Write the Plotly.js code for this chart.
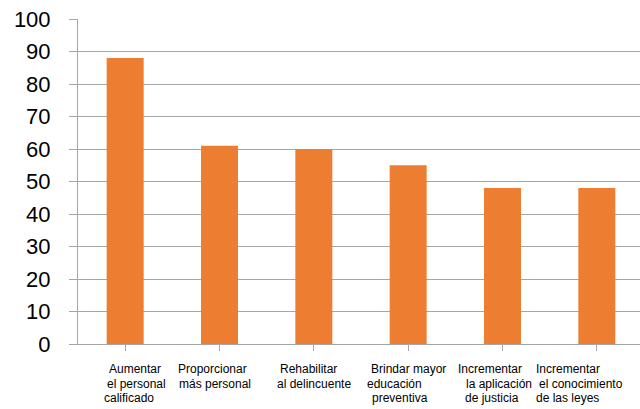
<!DOCTYPE html>
<html>
<head>
<meta charset="utf-8">
<script src="https://cdn.plot.ly/plotly-3.0.1.min.js"></script>
<style>html,body{margin:0;padding:0;background:#fff;overflow:hidden;width:640px;height:409px;}#chart{width:644px;height:409px;}</style>
</head>
<body>
<div id="chart"></div>
<script>
// Data
var categoryLines = [
  ["Aumentar", "el personal", "calificado"],
  ["Proporcionar", "más personal"],
  ["Rehabilitar", "al delincuente"],
  ["Brindar mayor", "educación", "preventiva"],
  ["Incrementar", "la aplicación", "de justicia"],
  ["Incrementar", "el conocimiento", "de las leyes"]
];
var values = [88, 61, 60, 55, 48, 48];
var yTicks = [0, 10, 20, 30, 40, 50, 60, 70, 80, 90, 100];

// Per-line horizontal nudges (px) to mimic the reference label placement
var lineShift = [
  [10, 11, 4],
  [-7, -5],
  [-5, 0],
  [0, -14, -8],
  [-13, -4, -11],
  [-29, -16, -29]
];
var xs = categoryLines.map(function (_, i) { return i; });

var annotations = [];
categoryLines.forEach(function (lines, i) {
  lines.forEach(function (l, j) {
    annotations.push({
      x: xs[i], xref: "x", y: 0, yref: "paper",
      xanchor: "center", yanchor: "middle",
      xshift: lineShift[i][j], yshift: -25 - 14.5 * j,
      text: l, showarrow: false,
      font: { size: 12, family: "Liberation Sans, Arial, sans-serif", color: "#000" }
    });
  });
});

var grid = "#A6A6A6";
Plotly.newPlot("chart", [{
  type: "bar",
  x: xs,
  y: values,
  marker: { color: "#ED7D31", line: { width: 0 } },
  hoverinfo: "skip"
}], {
  width: 644, height: 409,
  margin: { l: 78, r: 0, t: 19, b: 65, pad: 0 },
  paper_bgcolor: "#fff", plot_bgcolor: "#fff",
  bargap: 0.608,
  showlegend: false,
  font: { family: "Liberation Sans, Arial, sans-serif", color: "#000" },
  annotations: annotations,
  xaxis: {
    range: [-0.5, 5.5],
    tickmode: "array", tickvals: xs,
    showticklabels: false,
    tickson: "boundaries", ticks: "outside", ticklen: 6, tickcolor: grid, tickwidth: 1,
    showline: true, linecolor: grid, linewidth: 1,
    showgrid: false, zeroline: false,
    fixedrange: true
  },
  yaxis: {
    range: [0, 100],
    tickmode: "array", tickvals: yTicks,
    ticks: "outside", ticklen: 8, tickcolor: grid, tickwidth: 1,
    showline: true, linecolor: grid, linewidth: 1,
    showgrid: true, gridcolor: grid, gridwidth: 1,
    zeroline: false,
    tickfont: { size: 22, family: "Liberation Sans, Arial, sans-serif", color: "#000" },
    ticklabelstandoff: 14,
    fixedrange: true
  }
}, { staticPlot: true, displayModeBar: false });
</script>
</body>
</html>
